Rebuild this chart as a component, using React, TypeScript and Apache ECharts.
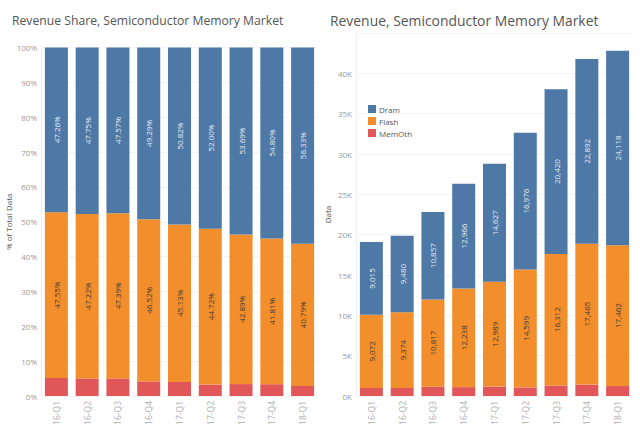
import React, { useEffect, useRef } from "react";
import * as echarts from "echarts";

const categories = ["16-Q1", "16-Q2", "16-Q3", "16-Q4", "17-Q1", "17-Q2", "17-Q3", "17-Q4", "18-Q1"];

const dramShare = [47.26, 47.75, 47.57, 49.29, 50.82, 52.0, 53.69, 54.8, 56.33];
const flashShare = [47.55, 47.22, 47.39, 46.52, 45.13, 44.72, 42.89, 41.81, 40.79];
const memOthShare = [5.19, 5.03, 5.04, 4.19, 4.05, 3.28, 3.42, 3.39, 2.88];

const dramRevenue = [9015, 9480, 10857, 12966, 14627, 16976, 20420, 22892, 24118];
const flashRevenue = [9072, 9374, 10817, 12238, 12989, 14599, 16312, 17465, 17462];
const memOthRevenue = [990, 999, 1150, 1102, 1166, 1071, 1301, 1416, 1233];

const leftTitle = "Revenue Share, Semiconductor Memory Market";
const rightTitle = "Revenue, Semiconductor Memory Market";

const FONT = "Open Sans";
const C_DRAM = "#4e79a7";
const C_FLASH = "#f28e2b";
const C_MEM = "#e15759";

export default function App() {
  const ref = useRef<HTMLDivElement>(null);
  useEffect(() => {
    if (!ref.current) return;
    const chart = echarts.init(ref.current, null, { renderer: "svg" });
    const axisLabelStyle = { color: "#999", fontSize: 8, fontFamily: FONT };
    const xAxisCommon = (gridIndex: number) => ({
      type: "category",
      gridIndex,
      data: categories,
      axisLine: { show: false },
      axisTick: { show: false },
      axisLabel: { ...axisLabelStyle, fontSize: 8.5, rotate: 90, margin: 5, color: "#b0b0b0" },
    });
    const fmtThousands = (v: number) => v.toLocaleString("en-US");
    const option: any = {
      animation: false,
      backgroundColor: "#fff",
      textStyle: { fontFamily: FONT },
      title: [
        {
          text: leftTitle,
          left: 7,
          top: 9,
          textStyle: { fontSize: 12.2, fontWeight: "normal", color: "#555", fontFamily: FONT },
        },
        {
          text: rightTitle,
          left: 325,
          top: 8,
          textStyle: { fontSize: 13.9, fontWeight: "normal", color: "#555", fontFamily: FONT },
        },
      ],
      legend: {
        data: ["Dram", "Flash", "MemOth"],
        orient: "vertical",
        left: 363,
        top: 100,
        itemWidth: 8,
        itemHeight: 8,
        itemGap: 4,
        icon: "rect",
        textStyle: { fontSize: 8, color: "#555", fontFamily: FONT, padding: [0, 0, 0, -2] },
      },
      grid: [
        { left: 41, width: 277, top: 47.5, height: 348.5 },
        { left: 356, width: 277, top: 33, height: 363 },
      ],
      xAxis: [xAxisCommon(0), xAxisCommon(1)],
      yAxis: [
        {
          type: "value",
          gridIndex: 0,
          min: 0,
          max: 100,
          interval: 10,
          name: "% of Total Data",
          nameLocation: "middle",
          nameGap: 29,
          nameTextStyle: { fontSize: 8, color: "#555", fontFamily: FONT },
          axisLine: { show: true, lineStyle: { color: "#eee" } },
          axisTick: { show: false },
          splitLine: { show: true, lineStyle: { color: "#f4f4f4" } },
          axisLabel: { ...axisLabelStyle, margin: 4, formatter: "{value}%" },
        },
        {
          type: "value",
          gridIndex: 1,
          min: 0,
          max: 45000,
          interval: 5000,
          name: "Data",
          nameLocation: "middle",
          nameGap: 25,
          nameTextStyle: { fontSize: 8, color: "#555", fontFamily: FONT },
          axisLine: { show: true, lineStyle: { color: "#eee" } },
          axisTick: { show: false },
          splitLine: { show: true, lineStyle: { color: "#f4f4f4" } },
          axisLabel: {
            ...axisLabelStyle,
            margin: 4,
            formatter: (v: number) => (v >= 45000 ? "" : v / 1000 + "K"),
          },
        },
      ],
      series: [
        {
          name: "MemOth",
          type: "bar",
          stack: "share",
          xAxisIndex: 0,
          yAxisIndex: 0,
          barWidth: 23,
          itemStyle: { color: C_MEM },
          data: memOthShare,
        },
        {
          name: "Flash",
          type: "bar",
          stack: "share",
          xAxisIndex: 0,
          yAxisIndex: 0,
          barWidth: 23,
          itemStyle: { color: C_FLASH },
          label: {
            show: true,
            position: "inside",
            rotate: 90,
            fontSize: 8,
            color: "#3a3a3a",
            fontFamily: FONT,
            formatter: (p: any) => p.value.toFixed(2) + "%",
          },
          data: flashShare,
        },
        {
          name: "Dram",
          type: "bar",
          stack: "share",
          xAxisIndex: 0,
          yAxisIndex: 0,
          barWidth: 23,
          itemStyle: { color: C_DRAM },
          label: {
            show: true,
            position: "inside",
            rotate: 90,
            fontSize: 8,
            color: "#e6edf5",
            fontFamily: FONT,
            formatter: (p: any) => p.value.toFixed(2) + "%",
          },
          data: dramShare,
        },
        {
          name: "MemOth",
          type: "bar",
          stack: "rev",
          xAxisIndex: 1,
          yAxisIndex: 1,
          barWidth: 23,
          itemStyle: { color: C_MEM },
          data: memOthRevenue,
        },
        {
          name: "Flash",
          type: "bar",
          stack: "rev",
          xAxisIndex: 1,
          yAxisIndex: 1,
          barWidth: 23,
          itemStyle: { color: C_FLASH },
          label: {
            show: true,
            position: "inside",
            rotate: 90,
            fontSize: 8,
            color: "#3a3a3a",
            fontFamily: FONT,
            formatter: (p: any) => fmtThousands(p.value),
          },
          data: flashRevenue,
        },
        {
          name: "Dram",
          type: "bar",
          stack: "rev",
          xAxisIndex: 1,
          yAxisIndex: 1,
          barWidth: 23,
          itemStyle: { color: C_DRAM },
          label: {
            show: true,
            position: "inside",
            rotate: 90,
            fontSize: 8,
            color: "#e6edf5",
            fontFamily: FONT,
            formatter: (p: any) => fmtThousands(p.value),
          },
          data: dramRevenue,
        },
      ],
    };
    chart.setOption(option);
    return () => chart.dispose();
  }, []);
  return (
    <div
      ref={ref}
      style={{ position: "fixed", left: 0, top: 0, width: 640, height: 436, background: "#fff" }}
    />
  );
}
